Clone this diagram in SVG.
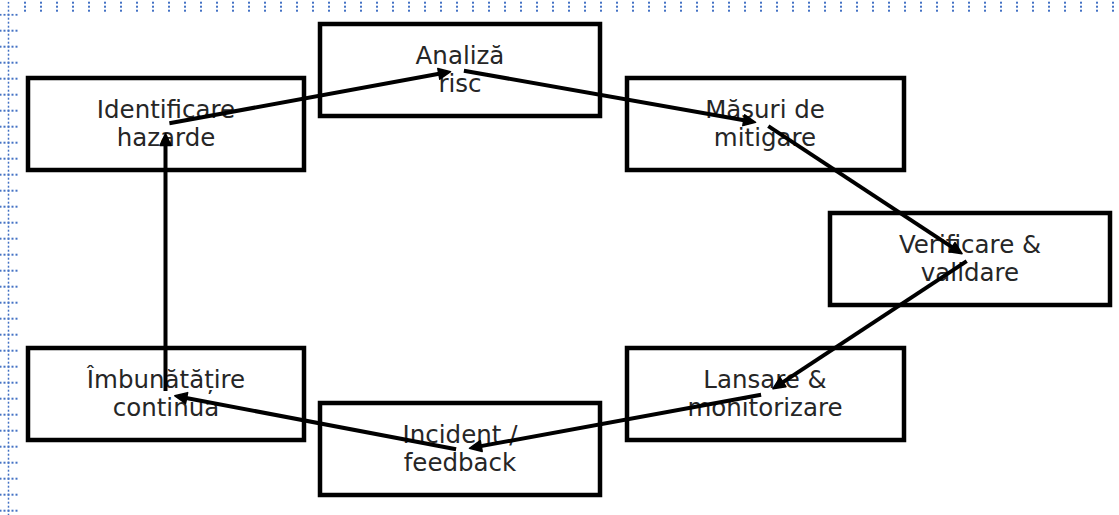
<svg xmlns="http://www.w3.org/2000/svg" width="1119" height="515" viewBox="0 0 1119 515">
  <style>
    .box rect { fill: #ffffff; stroke: #000000; stroke-width: 4.5; }
    .box text { font-family: "DejaVu Sans", "Liberation Sans", sans-serif; font-size: 24.5px; fill: #262626; text-anchor: middle; }
    .edge { stroke: #000000; stroke-width: 4; fill: none; marker-end: url(#head); }
  </style>
  <defs>
    <!-- dotted guide ticks along the top and left margins -->
    <pattern id="tickTop" x="24" y="0" width="16" height="12" patternUnits="userSpaceOnUse">
      <rect x="0" y="1.7" width="2" height="2" fill="#4472C4"/>
      <rect x="0" y="5.7" width="2" height="2" fill="#4472C4"/>
      <rect x="0" y="9.7" width="2" height="2" fill="#4472C4"/>
    </pattern>
    <pattern id="tickLeft" x="-0.5" y="13.7" width="20" height="16" patternUnits="userSpaceOnUse">
      <rect x="0" y="0" width="2" height="2" fill="#4472C4"/>
      <rect x="4" y="0" width="2" height="2" fill="#4472C4"/>
      <rect x="8" y="0" width="2" height="2" fill="#4472C4"/>
      <rect x="12" y="0" width="2" height="2" fill="#4472C4"/>
      <rect x="16" y="0" width="2" height="2" fill="#4472C4"/>
    </pattern>
    <pattern id="dotsV" x="7.5" y="1.7" width="4" height="4" patternUnits="userSpaceOnUse">
      <rect x="0" y="0" width="2" height="2" fill="#4472C4"/>
    </pattern>
    <marker id="head" viewBox="-8 -9 18 18" markerWidth="18" markerHeight="18" refX="0" refY="0" orient="auto" markerUnits="userSpaceOnUse">
      <path d="M -4.5 -5.5 L 7.5 0 L -4.5 5.5 Z" fill="#000000" stroke="#000000" stroke-width="1.5" stroke-linejoin="round"/>
    </marker>
  </defs>

  <rect x="0" y="0" width="1119" height="515" fill="#ffffff"/>
  <g id="margin-guides">
    <rect x="24" y="0" width="1095" height="12" fill="url(#tickTop)"/>
    <rect x="0" y="13.7" width="18" height="502" fill="url(#tickLeft)"/>
    <rect x="7.5" y="1.7" width="2" height="514" fill="url(#dotsV)"/>
  </g>

  <g id="node-identificare" class="box">
    <rect x="28" y="78" width="276" height="92"/>
    <text x="166" y="117.5">Identificare</text>
    <text x="166" y="146">hazarde</text>
  </g>
  <g id="node-analiza" class="box">
    <rect x="320" y="24" width="280" height="92"/>
    <text x="460" y="63.5">Analiză</text>
    <text x="460" y="92">risc</text>
  </g>
  <g id="node-masuri" class="box">
    <rect x="627" y="78" width="277" height="92"/>
    <text x="765" y="117.5">Măsuri de</text>
    <text x="765" y="146">mitigare</text>
  </g>
  <g id="node-verificare" class="box">
    <rect x="830" y="213" width="280" height="92"/>
    <text x="970" y="252.5">Verificare &amp;</text>
    <text x="970" y="281">validare</text>
  </g>
  <g id="node-lansare" class="box">
    <rect x="627" y="348" width="277" height="92"/>
    <text x="765" y="387.5">Lansare &amp;</text>
    <text x="765" y="416">monitorizare</text>
  </g>
  <g id="node-incident" class="box">
    <rect x="320" y="403" width="280" height="92"/>
    <text x="460" y="442.5">Incident /</text>
    <text x="460" y="471">feedback</text>
  </g>
  <g id="node-imbunatatire" class="box">
    <rect x="28" y="348" width="276" height="92"/>
    <text x="166" y="387.5">Îmbunătățire</text>
    <text x="166" y="416">continua</text>
  </g>

  <g id="connectors">
    <line class="edge" x1="169.4" y1="123.3" x2="443.2" y2="73.0"/>
    <line class="edge" x1="463.9" y1="70.7" x2="748.2" y2="121.0"/>
    <line class="edge" x1="768.3" y1="126.2" x2="955.8" y2="249.6"/>
    <line class="edge" x1="966.7" y1="261.2" x2="779.2" y2="384.6"/>
    <line class="edge" x1="761.1" y1="394.7" x2="476.8" y2="446.9"/>
    <line class="edge" x1="456.1" y1="449.3" x2="182.2" y2="397.2"/>
    <line class="edge" x1="165.5" y1="391" x2="165.5" y2="141"/>
  </g>
</svg>
